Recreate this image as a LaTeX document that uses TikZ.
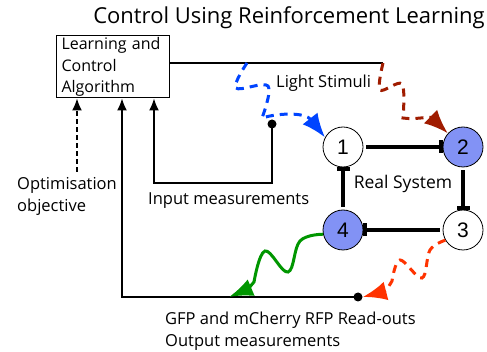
\documentclass[tikz,border=0pt]{standalone}
\usepackage{fontspec}
\setmainfont{Open Sans}
\newfontfamily\numfont{Liberation Sans}
\usetikzlibrary{arrows.meta}

\definecolor{litblue}{RGB}{130,146,245}
\definecolor{stimblue}{RGB}{0,68,255}
\definecolor{stimred}{RGB}{160,28,0}
\definecolor{gfpgreen}{RGB}{0,150,0}
\definecolor{rfporange}{RGB}{255,51,0}

\tikzstyle{gene}=[circle, draw, line width=0.8pt, minimum size=40pt, inner sep=0pt, font=\numfont\fontsize{21}{21}\selectfont]
\tikzstyle{rep}=[line width=3.5pt, -{Bar[width=13pt]}, shorten <=3pt]
\tikzstyle{sig}=[-{Latex[length=12pt, width=10pt]}, line width=1.4pt]
\tikzstyle{txt}=[font=\fontsize{16.5}{22}\selectfont, align=left, inner sep=0pt]
\tikzstyle{dot}=[circle, fill, inner sep=0pt, minimum size=9pt]
\tikzstyle{stim}=[line width=3pt, dash pattern=on 8pt off 6pt, -{Latex[length=24pt, width=19pt]}]
\tikzstyle{wave}=[line width=3pt, -{Latex[length=24pt, width=18pt]}]

\begin{document}
\begin{tikzpicture}[x=1pt, y=-1pt]
      \useasboundingbox (0,0) rectangle (487,352);
      \node[font=\fontsize{22}{22}\selectfont] (title) at (289,18) {Control Using Reinforcement Learning};
      \node[draw, line width=1pt, minimum height=62pt, txt, font=\fontsize{16}{21.5}\selectfont, text width=102pt, inner xsep=5.5pt] (algo) at (112.5,67) {Learning and\\Control\\Algorithm};
      \node[txt, anchor=north west] (opt) at (17,177) {Optimisation\\objective};
      \node[txt, anchor=west] (inlab) at (148,201) {Input measurements};
      \node[txt, anchor=west] (light) at (276,83) {Light Stimuli};
      \node[txt, anchor=north west] (outlab) at (165,312) {GFP and mCherry RFP Read-outs\\Output measurements};
      \node[txt, font=\fontsize{17.5}{22}\selectfont] (real) at (403,184) {Real System};
      \foreach \i/\x/\y/\f in {1/343/147/white, 2/463/147/litblue, 3/463/230/white, 4/343/230/litblue} {%
        \node[gene, fill=\f] (n\i) at (\x, \y) {\i};
      }
      \foreach \a/\b in {1/2, 2/3, 3/4, 4/1} {%
        \draw[rep] (n\a) -- (n\b);
      }
      \coordinate (lsb) at (247,63);
      \coordinate (lsr) at (383,63);
      \coordinate (gfp) at (229,297);
      \coordinate (optin) at (77,172);
      \node[dot] (rfp) at (358,297) {};
      \node[dot] (inp) at (272,124) {};
      \draw[line width=1.4pt] ([yshift=4pt]algo.east) -- (lsr);
      \draw[sig, dash pattern=on 5pt off 3pt] (optin) -- (optin |- algo.south);
      \draw[sig] (rfp.center) -| ([xshift=9.5pt]algo.south);
      \draw[sig] (inp.center) -- ++(0,59) -| ([xshift=41.5pt]algo.south);
      \draw[stim, stimblue] plot[smooth, tension=0.6] coordinates {(lsb) (236,88) (268,86) (262,118)} .. controls (278,113) and (305,112) .. (n1.152);
      \draw[stim, stimred] plot[smooth, tension=0.55] coordinates {(lsr) (380,90) (402,84) (403,118)} .. controls (415,120) and (430,116) .. (n2.138);
      \draw[wave, gfpgreen] plot[smooth, tension=0.65] coordinates {(n4.192) (300,241) (288,272) (265,251) (254,282)} .. controls (248,289) .. (gfp);
      \draw[stim, rfporange] plot[smooth, tension=0.6] coordinates {(n3.210) (430,250) (422,278) (400,260) (392,281)} .. controls (386,291) .. (rfp.east);
    \end{tikzpicture}
\end{document}
